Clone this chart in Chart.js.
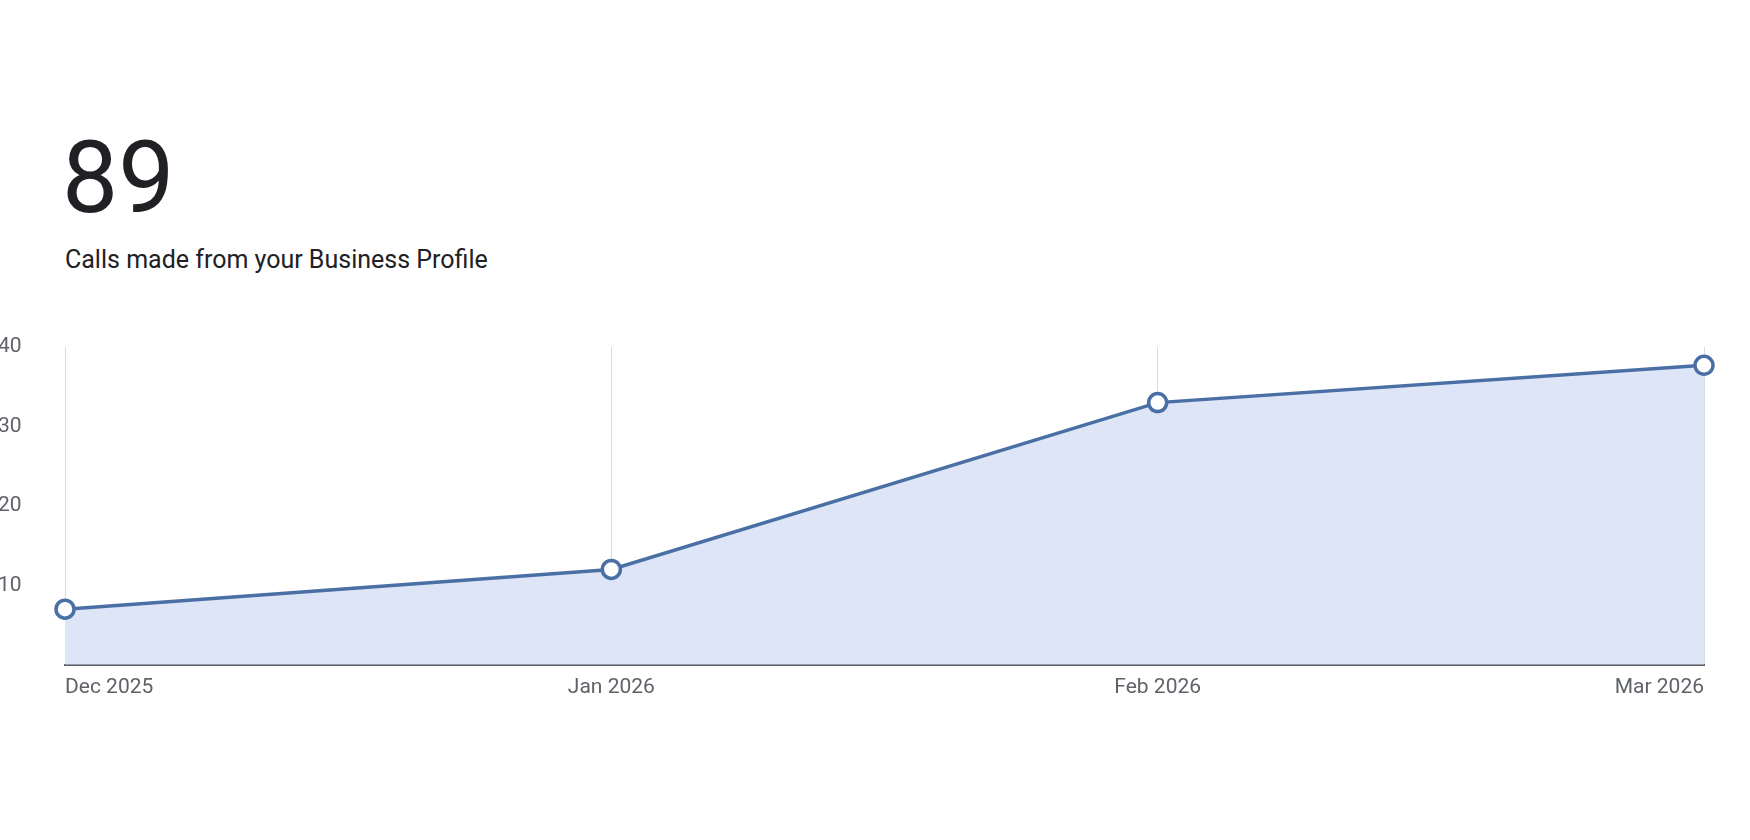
<!DOCTYPE html>
<html><head><meta charset="utf-8">
<script src="https://cdn.jsdelivr.net/npm/chart.js@4/dist/chart.umd.min.js"></script>
<style>
body{margin:0;background:#fff;width:1750px;height:840px;position:relative;overflow:hidden;font-family:Roboto,"Open Sans",sans-serif;}
#big{position:absolute;left:62px;top:128px;font-size:100px;color:#202124;font-weight:400;line-height:1;}
#sub{position:absolute;left:65px;top:245px;font-size:25px;color:#202124;}
#wrap{position:absolute;left:0;top:300px;width:1750px;height:420px;}
</style></head><body>
<div id="big">89</div>
<div id="sub">Calls made from your Business Profile</div>
<div id="wrap"><canvas id="c"></canvas></div>
<script>
const categories=["Dec 2025","Jan 2026","Feb 2026","Mar 2026"];
const calls=[7,12,33,37.7];
const yTicks=[10,20,30,40];
new Chart(document.getElementById('c'),{
type:'line',
data:{labels:categories,datasets:[{data:calls,borderColor:'#4a6fa5',borderWidth:3.5,backgroundColor:'#dde5f7',fill:'origin',tension:0,
pointRadius:9,pointHoverRadius:9,pointBackgroundColor:'#fff',pointBorderColor:'#4a6fa5',pointBorderWidth:3.5,clip:false}]},
options:{responsive:true,maintainAspectRatio:false,animation:false,
layout:{padding:{left:65,right:46,top:47,bottom:10}},
plugins:{legend:{display:false},tooltip:{enabled:false}},
scales:{
x:{offset:false,grid:{display:true,color:'#dadce0',drawTicks:false,tickLength:0},border:{display:true,color:'#5f6368',width:2,dash:[]},
ticks:{align:'inner',color:'#5f6368',font:{size:21,family:'Roboto'},padding:10,maxRotation:0}},
y:{min:0,max:40,afterBuildTicks:a=>{a.ticks=yTicks.map(v=>({value:v}));},
grid:{display:false},border:{display:false},
ticks:{mirror:true,padding:-25,color:'#5f6368',font:{size:21,family:'Roboto'}}}
}},
plugins:[{id:'dash',beforeDatasetsDraw(ch){}}]
});
</script></body></html>
